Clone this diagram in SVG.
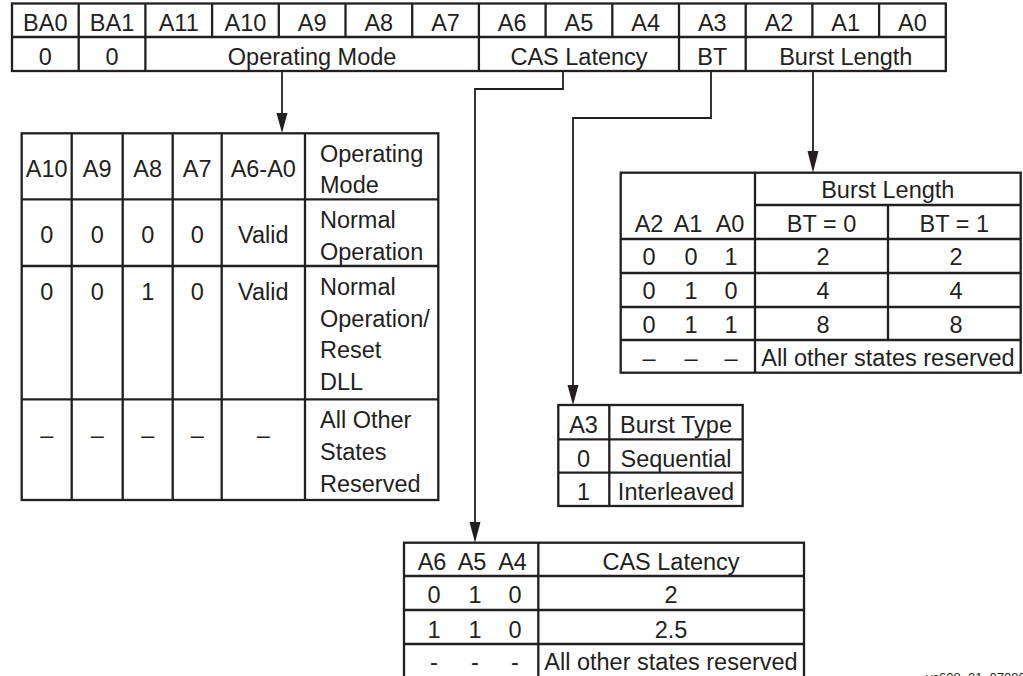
<svg xmlns="http://www.w3.org/2000/svg" width="1023" height="676" viewBox="0 0 1023 676">
<defs>
<style>
text{font-family:"Liberation Sans",Arial,Helvetica,sans-serif;font-size:23.5px;fill:#231f20}
.c{text-anchor:middle}
.b{fill:none;stroke:#231f20;stroke-width:2.3}
.l{stroke:#231f20;stroke-width:2.3}
.cn{fill:none;stroke:#231f20;stroke-width:1.8}
.ah{fill:#231f20}
.s{font-size:13px}
</style>
</defs>
<rect width="1023" height="676" fill="#fff"/>

<g id="register">
<rect class="b" x="12" y="3.5" width="933.8" height="67.5"/>
<line class="l" x1="12" y1="37" x2="945.8" y2="37"/>
<g class="l">
<line x1="78.7" y1="3.5" x2="78.7" y2="71"/>
<line x1="145.4" y1="3.5" x2="145.4" y2="71"/>
<line x1="212.1" y1="3.5" x2="212.1" y2="37"/>
<line x1="278.8" y1="3.5" x2="278.8" y2="37"/>
<line x1="345.5" y1="3.5" x2="345.5" y2="37"/>
<line x1="412.2" y1="3.5" x2="412.2" y2="37"/>
<line x1="478.9" y1="3.5" x2="478.9" y2="71"/>
<line x1="545.6" y1="3.5" x2="545.6" y2="37"/>
<line x1="612.3" y1="3.5" x2="612.3" y2="37"/>
<line x1="679" y1="3.5" x2="679" y2="71"/>
<line x1="745.7" y1="3.5" x2="745.7" y2="71"/>
<line x1="812.4" y1="3.5" x2="812.4" y2="37"/>
<line x1="879.1" y1="3.5" x2="879.1" y2="37"/>
</g>
<g class="c">
<text x="45.3" y="31">BA0</text>
<text x="112" y="31">BA1</text>
<text x="178.7" y="31">A11</text>
<text x="245.4" y="31">A10</text>
<text x="312.1" y="31">A9</text>
<text x="378.8" y="31">A8</text>
<text x="445.5" y="31">A7</text>
<text x="512.2" y="31">A6</text>
<text x="578.9" y="31">A5</text>
<text x="645.6" y="31">A4</text>
<text x="712.3" y="31">A3</text>
<text x="779" y="31">A2</text>
<text x="845.7" y="31">A1</text>
<text x="912.4" y="31">A0</text>
<text x="45.3" y="65">0</text>
<text x="112" y="65">0</text>
<text x="312.1" y="65">Operating Mode</text>
<text x="579" y="65">CAS Latency</text>
<text x="712.3" y="65">BT</text>
<text x="845.8" y="65">Burst Length</text>
</g>
</g>

<g id="connectors">
<path class="cn" d="M282,71 V116"/>
<polygon class="ah" points="276.5,113 287.5,113 282,133"/>
<path class="cn" d="M563,71 V89 H475 V525"/>
<polygon class="ah" points="469.5,522 480.5,522 475,542.7"/>
<path class="cn" d="M711,71 V118 H573 V388"/>
<polygon class="ah" points="567.5,385 578.5,385 573,405"/>
<path class="cn" d="M813,71 V154"/>
<polygon class="ah" points="807.5,151 818.5,151 813,172.7"/>
</g>

<g id="operating-mode-table">
<rect class="b" x="21.7" y="133.3" width="416.6" height="366.7"/>
<g class="l">
<line x1="71.7" y1="133.3" x2="71.7" y2="500"/>
<line x1="122.7" y1="133.3" x2="122.7" y2="500"/>
<line x1="172.7" y1="133.3" x2="172.7" y2="500"/>
<line x1="221.7" y1="133.3" x2="221.7" y2="500"/>
<line x1="305" y1="133.3" x2="305" y2="500"/>
<line x1="21.7" y1="199.3" x2="438.3" y2="199.3"/>
<line x1="21.7" y1="266" x2="438.3" y2="266"/>
<line x1="21.7" y1="399.3" x2="438.3" y2="399.3"/>
</g>
<g class="c">
<text x="46.7" y="176.7">A10</text>
<text x="97.2" y="176.7">A9</text>
<text x="147.7" y="176.7">A8</text>
<text x="197.2" y="176.7">A7</text>
<text x="263.3" y="176.7">A6-A0</text>
<text x="46.7" y="243.3">0</text>
<text x="97.2" y="243.3">0</text>
<text x="147.7" y="243.3">0</text>
<text x="197.2" y="243.3">0</text>
<text x="263.3" y="243.3">Valid</text>
<text x="46.7" y="300">0</text>
<text x="97.2" y="300">0</text>
<text x="147.7" y="300">1</text>
<text x="197.2" y="300">0</text>
<text x="263.3" y="300">Valid</text>
<text x="46.7" y="443">–</text>
<text x="97.2" y="443">–</text>
<text x="147.7" y="443">–</text>
<text x="197.2" y="443">–</text>
<text x="263.3" y="443">–</text>
</g>
<text x="320" y="161.7">Operating</text>
<text x="320" y="193.3">Mode</text>
<text x="320" y="228.3">Normal</text>
<text x="320" y="260">Operation</text>
<text x="320" y="295">Normal</text>
<text x="320" y="326.7">Operation/</text>
<text x="320" y="358.3">Reset</text>
<text x="320" y="390">DLL</text>
<text x="320" y="428.3">All Other</text>
<text x="320" y="460">States</text>
<text x="320" y="491.7">Reserved</text>
</g>

<g id="burst-length-table">
<rect class="b" x="620.7" y="172.7" width="400" height="200"/>
<g class="l">
<line x1="755" y1="172.7" x2="755" y2="372.7"/>
<line x1="888" y1="205" x2="888" y2="340"/>
<line x1="755" y1="205" x2="1020.7" y2="205"/>
<line x1="620.7" y1="239" x2="1020.7" y2="239"/>
<line x1="620.7" y1="273" x2="1020.7" y2="273"/>
<line x1="620.7" y1="307" x2="1020.7" y2="307"/>
<line x1="620.7" y1="340" x2="1020.7" y2="340"/>
</g>
<g class="c">
<text x="887.8" y="198">Burst Length</text>
<text x="649" y="231.7">A2</text>
<text x="688" y="231.7">A1</text>
<text x="730" y="231.7">A0</text>
<text x="821.5" y="231.7">BT = 0</text>
<text x="954.3" y="231.7">BT = 1</text>
<text x="649" y="265">0</text>
<text x="691" y="265">0</text>
<text x="731" y="265">1</text>
<text x="823" y="265">2</text>
<text x="956" y="265">2</text>
<text x="649" y="299">0</text>
<text x="691" y="299">1</text>
<text x="731" y="299">0</text>
<text x="823" y="299">4</text>
<text x="956" y="299">4</text>
<text x="649" y="332.5">0</text>
<text x="691" y="332.5">1</text>
<text x="731" y="332.5">1</text>
<text x="823" y="332.5">8</text>
<text x="956" y="332.5">8</text>
<text x="649" y="366">–</text>
<text x="691" y="366">–</text>
<text x="731" y="366">–</text>
<text x="888" y="366">All other states reserved</text>
</g>
</g>

<g id="burst-type-table">
<rect class="b" x="558.3" y="405" width="184.4" height="101"/>
<g class="l">
<line x1="609.3" y1="405" x2="609.3" y2="506"/>
<line x1="558.3" y1="439.3" x2="742.7" y2="439.3"/>
<line x1="558.3" y1="472.7" x2="742.7" y2="472.7"/>
</g>
<g class="c">
<text x="583.5" y="433.3">A3</text>
<text x="676" y="433.3">Burst Type</text>
<text x="583.5" y="466.5">0</text>
<text x="676" y="466.5">Sequential</text>
<text x="583.5" y="500">1</text>
<text x="676" y="500">Interleaved</text>
</g>
</g>

<g id="cas-latency-table">
<rect class="b" x="404" y="542.7" width="400" height="136"/>
<g class="l">
<line x1="538.3" y1="542.7" x2="538.3" y2="678.7"/>
<line x1="404" y1="576" x2="804" y2="576"/>
<line x1="404" y1="610" x2="804" y2="610"/>
<line x1="404" y1="644" x2="804" y2="644"/>
</g>
<g class="c">
<text x="432" y="570">A6</text>
<text x="472" y="570">A5</text>
<text x="512.5" y="570">A4</text>
<text x="671" y="570">CAS Latency</text>
<text x="434" y="603.3">0</text>
<text x="475" y="603.3">1</text>
<text x="515" y="603.3">0</text>
<text x="671" y="603.3">2</text>
<text x="434" y="638">1</text>
<text x="475" y="638">1</text>
<text x="515" y="638">0</text>
<text x="671" y="638">2.5</text>
<text x="434" y="670">-</text>
<text x="475" y="670">-</text>
<text x="515" y="670">-</text>
<text x="671" y="670">All other states reserved</text>
</g>
</g>

<text class="s" x="926" y="681.5">yc608_01_070800</text>
</svg>
